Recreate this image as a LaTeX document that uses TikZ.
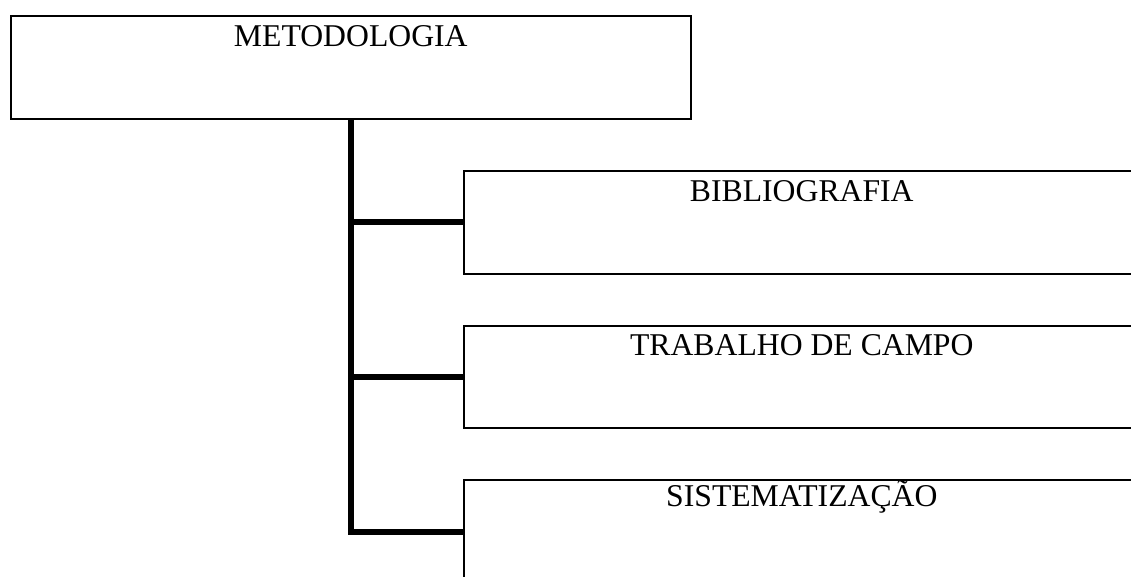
\documentclass[tikz,border=0pt]{standalone}
\usepackage{fontspec}
\setmainfont{Liberation Serif}
\usetikzlibrary{positioning}

\tikzset{
    caixa/.style={draw, line width=1.6pt, rectangle, anchor=north west, inner sep=0pt,
        font=\fontsize{31.7}{38}\selectfont, text depth=72pt, text height=31pt},
    tronco/.style={line width=6pt}
}

\begin{document}
\begin{tikzpicture}[x=1pt, y=-1pt]
    \useasboundingbox (0,0) rectangle (1131,576);

    % Top box
    \node[caixa, minimum width=680pt] (metodologia) at (10,15) {METODOLOGIA};

    % Boxes on the right (cut at the page edge)
    \node[caixa, minimum width=676pt] (bibliografia) at (463,170) {BIBLIOGRAFIA};
    \node[caixa, minimum width=676pt, text height=30pt] (trabalho) at (463,325) {TRABALHO DE CAMPO};
    \node[caixa, minimum width=676pt, text height=27pt, text depth=77pt] (sistematizacao) at (463,479) {SISTEMATIZAÇÃO};

    % Connectors
    \draw[tronco] (metodologia.south) |- (sistematizacao.west);
    \draw[tronco] (metodologia.south |- bibliografia.west) -- (bibliografia.west);
    \draw[tronco] (metodologia.south |- trabalho.west) -- (trabalho.west);
\end{tikzpicture}
\end{document}
